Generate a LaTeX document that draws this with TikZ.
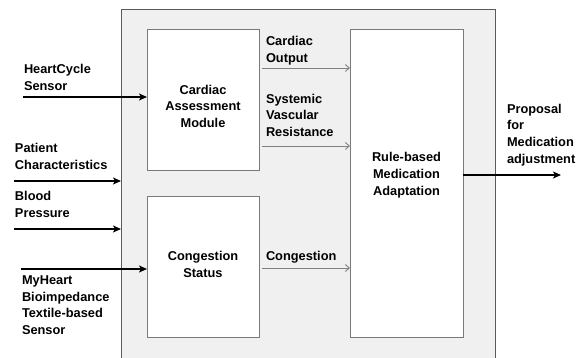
\documentclass[tikz,border=0pt]{standalone}
\usepackage{fontspec}
\setmainfont{Liberation Sans}
\usetikzlibrary{arrows.meta}
\definecolor{sysfill}{HTML}{F0F0F0}
\definecolor{sysline}{HTML}{5A5A5A}
\definecolor{boxline}{HTML}{7A7A7A}
\definecolor{thinarrow}{HTML}{808080}
\tikzset{
  x=1pt, y=-1pt,
  every node/.style={font=\fontsize{12.8}{16.7}\selectfont\bfseries, inner sep=0pt, outer sep=0pt},
  sysbox/.style={draw=sysline, fill=sysfill, line width=0.9pt},
  modbox/.style={draw=boxline, fill=white, line width=0.9pt},
  lbl/.style={align=left, anchor=base west},
  clbl/.style={align=center, anchor=base},
  bigarrow/.style={draw=black, line width=2pt, -{Stealth[length=8pt,width=7pt,inset=2pt]}},
  smallarrow/.style={draw=thinarrow, line width=0.9pt, -{Straight Barb[length=4pt,width=7pt]}},
}
\begin{document}
\begin{tikzpicture}
\useasboundingbox (0,0) rectangle (582,358);
\clip (0,0) rectangle (582,358);
% system box (extends below the picture)
\node[sysbox, minimum width=374pt, minimum height=361pt] (sys) at (308,189.5) {};
% modules
\node[modbox, minimum width=112pt, minimum height=141pt] (cam) at (203,99.5) {};
\node[modbox, minimum width=112pt, minimum height=141pt] (cs) at (203,266.5) {};
\node[modbox, minimum width=113pt, minimum height=308pt] (rb) at (406.5,183) {};
% module texts (anchored at the baseline of the last line)
\node[clbl] (camt) at (203,127.7) {Cardiac\\Assessment\\Module};
\node[clbl] (cst) at (203,277.4) {Congestion\\Status};
\node[clbl] (rbt) at (406.5,195.1) {Rule-based\\Medication\\Adaptation};
% input labels
\node[lbl] (hcl) at (24,90.7) {HeartCycle\\Sensor};
\node[lbl] (pcl) at (15,169.5) {Patient\\Characteristics};
\node[lbl] (bpl) at (15,217.3) {Blood\\Pressure};
\node[lbl] (mhl) at (22,334.5) {MyHeart\\Bioimpedance\\Textile-based\\Sensor};
% internal labels
\node[lbl] (col) at (266,62.7) {Cardiac\\Output};
\node[lbl] (svl) at (266,136.7) {Systemic\\Vascular\\Resistance};
\node[lbl] (cgl) at (266,261) {Congestion};
\node[lbl] (pml) at (507,163.4) {Proposal\\for\\Medication\\adjustment};
% arrow endpoints
\coordinate (hc) at (23,97);
\coordinate (pc) at (14,181);
\coordinate (bp) at (14,229);
\coordinate (mh) at (21,269);
\coordinate (co) at (262,68);
\coordinate (sv) at (262,146);
\coordinate (cg) at (262,268);
\coordinate (out) at (561,175);
% arrows
\draw[bigarrow] (hc) -- (hc -| cam.west);
\draw[bigarrow] (pc) -- (pc -| sys.west);
\draw[bigarrow] (bp) -- (bp -| sys.west);
\draw[bigarrow] (mh) -- (mh -| cs.west);
\draw[smallarrow] (co) -- (co -| rb.west);
\draw[smallarrow] (sv) -- (sv -| rb.west);
\draw[smallarrow] (cg) -- (cg -| rb.west);
\draw[bigarrow] (out -| rb.east) -- (out);
\end{tikzpicture}
\end{document}
